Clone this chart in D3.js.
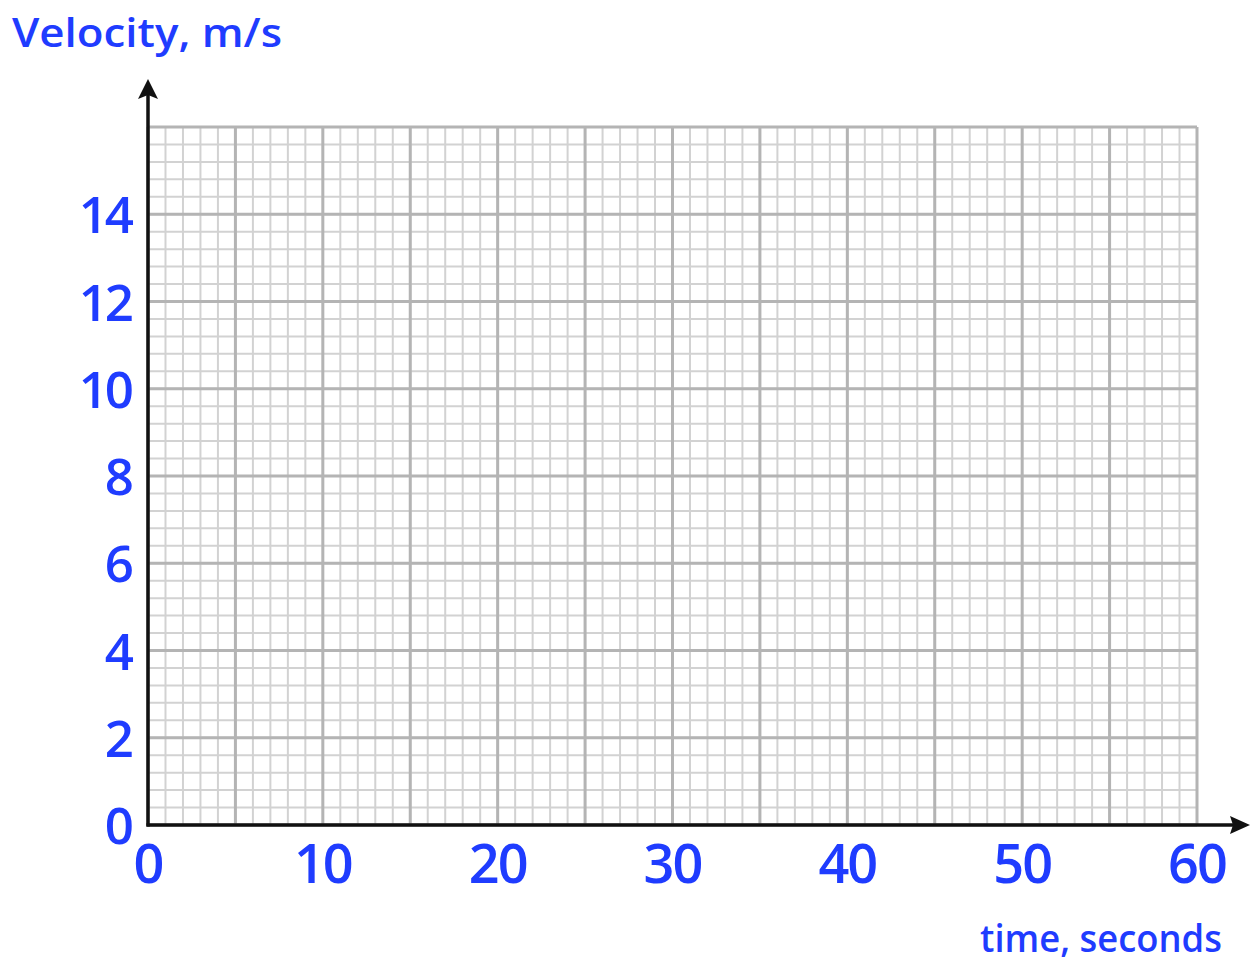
<!DOCTYPE html>
<html>
<head>
<meta charset="utf-8">
<script src="https://cdn.jsdelivr.net/npm/d3@7"></script>
<style>
  html, body { margin: 0; padding: 0; background: #fff; }
  svg { display: block; }
  text { font-family: "Comic Sans MS", "Open Sans", sans-serif; font-weight: 600; fill: #1f3cff; }
</style>
</head>
<body>
<svg id="chart" width="1252" height="963"></svg>
<script>
const xTicks = [0, 10, 20, 30, 40, 50, 60];
const yTicks = [0, 2, 4, 6, 8, 10, 12, 14];
const xDomain = [0, 60];
const yDomain = [0, 16];
const xLabel = "time, seconds";
const yLabel = "Velocity, m/s";

const svg = d3.select("#chart");
const x = d3.scaleLinear().domain(xDomain).range([148, 1197]);
const y = d3.scaleLinear().domain(yDomain).range([825, 127]);

const grid = svg.append("g");
// minor grid
const minorX = d3.range(xDomain[0], xDomain[1] + 0.001, 1);
const minorY = d3.range(0, 80 + 1, 2).map(d => d / 5); // every 0.4
grid.selectAll(".mx").data(minorX).join("line")
  .attr("x1", d => x(d)).attr("x2", d => x(d))
  .attr("y1", y(yDomain[0])).attr("y2", y(yDomain[1]))
  .attr("stroke", "#d2d2d2").attr("stroke-width", 2);
grid.selectAll(".my").data(minorY).join("line")
  .attr("y1", d => y(d)).attr("y2", d => y(d))
  .attr("x1", x(xDomain[0])).attr("x2", x(xDomain[1]))
  .attr("stroke", "#d2d2d2").attr("stroke-width", 2);
// major grid
const majorX = d3.range(xDomain[0], xDomain[1] + 0.001, 5);
const majorY = d3.range(yDomain[0], yDomain[1] + 0.001, 2);
grid.selectAll(".Mx").data(majorX).join("line")
  .attr("x1", d => x(d)).attr("x2", d => x(d))
  .attr("y1", y(yDomain[0])).attr("y2", y(yDomain[1]))
  .attr("stroke", "#b4b4b4").attr("stroke-width", 3);
grid.selectAll(".My").data(majorY).join("line")
  .attr("y1", d => y(d)).attr("y2", d => y(d))
  .attr("x1", x(xDomain[0])).attr("x2", x(xDomain[1]))
  .attr("stroke", "#b4b4b4").attr("stroke-width", 3);

// axes
const axisColor = "#111";
svg.append("line")
  .attr("x1", x(0) - 1.5).attr("x2", 1236)
  .attr("y1", y(0)).attr("y2", y(0))
  .attr("stroke", axisColor).attr("stroke-width", 3.5);
svg.append("line")
  .attr("x1", x(0)).attr("x2", x(0))
  .attr("y1", y(0) + 1.5).attr("y2", 92)
  .attr("stroke", axisColor).attr("stroke-width", 3.5);
// arrowheads
svg.append("path")
  .attr("d", `M1250,${y(0)} L1230,${y(0) - 9} L1233,${y(0)} L1230,${y(0) + 9} Z`)
  .attr("fill", axisColor);
svg.append("path")
  .attr("d", `M${x(0)},79 L${x(0) - 10},99 L${x(0)},95 L${x(0) + 10},99 Z`)
  .attr("fill", axisColor);

// tick labels
svg.selectAll(".xl").data(xTicks).join("text")
  .attr("x", d => x(d)).attr("y", 883)
  .attr("text-anchor", "middle")
  .attr("font-size", 54)
  .attr("letter-spacing", -2)
  .text(d => d);
svg.selectAll(".yl").data(yTicks).join("text")
  .attr("x", 131).attr("y", d => y(d) + 19)
  .attr("text-anchor", "end")
  .attr("font-size", 51)
  .attr("letter-spacing", -3)
  .text(d => d);

// axis titles
svg.append("text").attr("x", 12).attr("y", 47)
  .attr("font-size", 40)
  .attr("textLength", 270).attr("lengthAdjust", "spacingAndGlyphs")
  .text(yLabel);
svg.append("text").attr("x", 980).attr("y", 952)
  .attr("font-size", 37)
  .attr("textLength", 242).attr("lengthAdjust", "spacingAndGlyphs")
  .text(xLabel);
</script>
</body>
</html>
